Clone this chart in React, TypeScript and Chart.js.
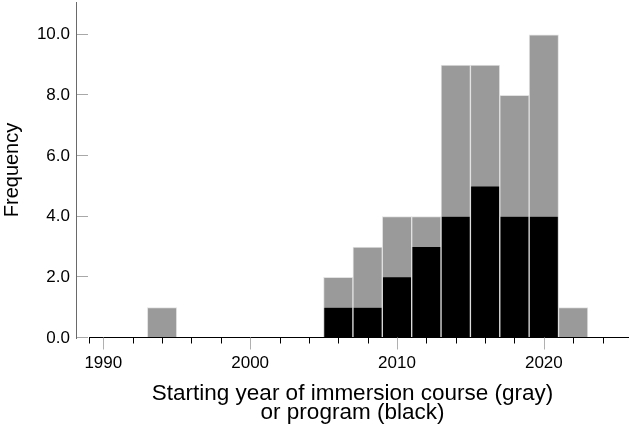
import { useEffect, useRef } from 'react';
import { Chart, registerables } from 'chart.js';

Chart.register(...registerables);

// ---- data ----
const binCenters = [1994, 2006, 2008, 2010, 2012, 2014, 2016, 2018, 2020, 2022];
const courseCounts = [1, 2, 3, 4, 4, 9, 9, 8, 10, 1]; // gray
const programCounts = [0, 1, 1, 2, 3, 4, 5, 4, 4, 0]; // black
const xTickValues = [1990, 1992, 1994, 1996, 1998, 2000, 2002, 2004, 2006, 2008, 2010, 2012, 2014, 2016, 2018, 2020, 2022, 2024];
const xLabelYears = [1990, 2000, 2010, 2020];
const yTickValues = [0, 2, 4, 6, 8, 10];
const xAxisStart = 1989;
const xTitle = ['Starting year of immersion course (gray)', 'or program (black)'];
const yTitle = 'Frequency';

Chart.defaults.font.family = '"Liberation Sans", Arial, Helvetica, sans-serif';

const axisPlugin = {
  id: 'axisMarks',
  afterDatasetsDraw(chart: any) {
    const { ctx, chartArea, scales } = chart;
    const x = scales.x;
    const y = scales.y;
    ctx.save();
    ctx.lineWidth = 1;
    const by = Math.round(chartArea.bottom) - 0.5;
    // x axis line
    ctx.strokeStyle = '#000000';
    ctx.beginPath();
    ctx.moveTo(Math.round(x.getPixelForValue(xAxisStart)), by);
    ctx.lineTo(chartArea.right, by);
    ctx.stroke();
    // x ticks
    const xt = [xAxisStart, ...xTickValues];
    for (const v of xt) {
      const px = Math.round(x.getPixelForValue(v)) + 0.5;
      const major = xLabelYears.includes(v);
      ctx.strokeStyle = major ? '#b0b0b0' : '#000000';
      ctx.beginPath();
      ctx.moveTo(px, by);
      ctx.lineTo(px, by + (major ? 12 : 6));
      ctx.stroke();
    }
    // y ticks (inward)
    ctx.strokeStyle = '#a8a8a8';
    for (const v of yTickValues) {
      const py = Math.round(y.getPixelForValue(v)) - 0.5;
      ctx.beginPath();
      ctx.moveTo(chartArea.left + 1, py);
      ctx.lineTo(chartArea.left + 12, py);
      ctx.stroke();
    }
    ctx.restore();
  },
};

export default function App() {
  const ref = useRef<HTMLCanvasElement>(null);

  useEffect(() => {
    const programData = binCenters
      .map((x, i) => ({ x, y: programCounts[i] }))
      .filter((d) => d.y > 0);
    const courseData = binCenters
      .map((x, i) => ({ x, y: courseCounts[i] }))
      .filter((d) => d.y > 0);

    const chart = new Chart(ref.current as HTMLCanvasElement, {
      type: 'bar',
      data: {
        datasets: [
          {
            label: 'Program',
            data: programData as any,
            backgroundColor: '#000000',
            borderColor: '#dcdcdc',
            borderWidth: { top: 0, left: 1, right: 1, bottom: 0 } as any,
            order: 0,
            grouped: false,
            categoryPercentage: 1,
            barPercentage: 1,
          } as any,
          {
            label: 'Course',
            data: courseData as any,
            backgroundColor: '#9a9a9a',
            borderColor: '#e2e2e2',
            borderWidth: 1,
            order: 1,
            grouped: false,
            categoryPercentage: 1,
            barPercentage: 1,
          } as any,
        ],
      },
      options: {
        animation: false,
        responsive: false,
        layout: { padding: { top: 2, left: 0, right: 0, bottom: 0 } },
        plugins: { legend: { display: false }, tooltip: { enabled: false } },
        scales: {
          x: {
            type: 'linear',
            offset: false,
            min: 1988.14,
            max: 2025.8,
            afterBuildTicks: (s: any) => {
              s.ticks = xTickValues.map((v) => ({ value: v }));
            },
            afterFit: (s: any) => {
              s.height = 89;
              s.paddingLeft = 0;
              s.paddingRight = 0;
              s.paddingTop = 0;
              s.paddingBottom = 0;
            },
            grid: { display: false, drawTicks: false, offset: false },
            border: { display: false },
            ticks: {
              autoSkip: false,
              maxRotation: 0,
              minRotation: 0,
              padding: 15,
              color: '#000',
              font: { size: 17 },
              callback: (v: any) => (xLabelYears.includes(Number(v)) ? String(v) : ''),
            },
            title: {
              display: true,
              text: xTitle,
              color: '#000',
              font: { size: 22.5, lineHeight: '18.3px' },
              padding: { top: 0, bottom: 5.5 },
            },
          },
          y: {
            min: 0,
            max: 11.08,
            afterBuildTicks: (s: any) => {
              s.ticks = yTickValues.map((v) => ({ value: v }));
            },
            afterFit: (s: any) => {
              s.width = 76;
              s.paddingLeft = 0;
              s.paddingRight = 0;
              s.paddingTop = 0;
              s.paddingBottom = 0;
            },
            grid: { display: false, drawTicks: false },
            border: { display: true, color: '#6a6a6a', width: 1 },
            ticks: {
              padding: 6,
              color: '#000',
              font: { size: 17 },
              callback: (v: any) => Number(v).toFixed(1),
            },
            title: {
              display: true,
              text: yTitle,
              color: '#000',
              font: { size: 20 },
              padding: 0,
            },
          },
        },
      } as any,
      plugins: [axisPlugin],
    });
    return () => chart.destroy();
  }, []);

  return (
    <div style={{ position: 'fixed', left: 0, top: 0, width: 629, height: 427, background: '#fff' }}>
      <canvas ref={ref} width={629} height={427} style={{ display: 'block', width: 629, height: 427 }} />
    </div>
  );
}
